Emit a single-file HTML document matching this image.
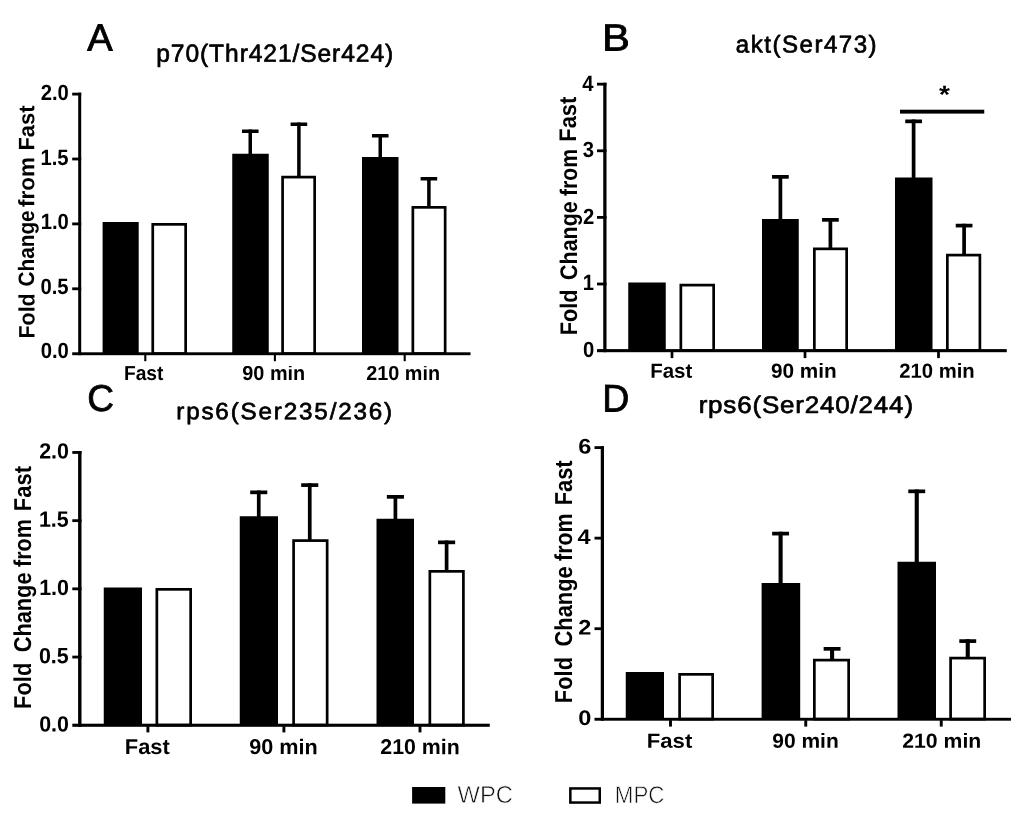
<!DOCTYPE html>
<html><head><meta charset="utf-8"><title>Figure</title>
<style>html,body{margin:0;padding:0;background:#fff}svg{display:block}text{font-family:"Liberation Sans",Arial,Helvetica,sans-serif;text-rendering:geometricPrecision}</style>
</head><body>
<svg width="1024" height="820" viewBox="0 0 1024 820">
<defs><clipPath id="ca"><rect x="-2000" y="-13.9" width="4000" height="40"/></clipPath></defs>
<rect width="1024" height="820" fill="#fff"/>
<rect x="248.50" y="129.50" width="3.50" height="25.50" fill="#000"/>
<rect x="241.95" y="129.50" width="16.60" height="3.50" fill="#000"/>
<rect x="297.15" y="122.50" width="3.50" height="54.50" fill="#000"/>
<rect x="290.60" y="122.50" width="16.60" height="3.50" fill="#000"/>
<rect x="378.50" y="134.00" width="3.50" height="24.00" fill="#000"/>
<rect x="371.95" y="134.00" width="16.60" height="3.50" fill="#000"/>
<rect x="427.15" y="177.00" width="3.50" height="30.00" fill="#000"/>
<rect x="420.60" y="177.00" width="16.60" height="3.50" fill="#000"/>
<rect x="102.60" y="222.00" width="36.10" height="131.75" fill="#000"/>
<rect x="152.75" y="224.35" width="32.90" height="129.25" fill="#fff" stroke="#000" stroke-width="2.7"/>
<rect x="232.25" y="153.75" width="36.50" height="200.00" fill="#000"/>
<rect x="282.60" y="177.10" width="32.05" height="176.50" fill="#fff" stroke="#000" stroke-width="2.7"/>
<rect x="362.00" y="157.00" width="36.50" height="196.75" fill="#000"/>
<rect x="412.85" y="207.35" width="32.30" height="146.25" fill="#fff" stroke="#000" stroke-width="2.7"/>
<rect x="78.20" y="92.70" width="3.00" height="262.50" fill="#000"/>
<rect x="72.20" y="352.30" width="398.30" height="2.90" fill="#000"/>
<rect x="72.20" y="92.70" width="9.00" height="2.80" fill="#000"/>
<rect x="72.20" y="157.60" width="9.00" height="2.80" fill="#000"/>
<rect x="72.20" y="222.50" width="9.00" height="2.80" fill="#000"/>
<rect x="72.20" y="287.40" width="9.00" height="2.80" fill="#000"/>
<rect x="144.25" y="354.70" width="2.10" height="6.50" fill="#000"/>
<rect x="273.85" y="354.70" width="2.10" height="6.50" fill="#000"/>
<rect x="403.65" y="354.70" width="2.10" height="6.50" fill="#000"/>
<text transform="translate(40.69,99.90) rotate(0.03) scale(0.9200,1)" font-size="22" font-weight="bold" fill="#000">2.0</text>
<text transform="translate(40.43,164.55) rotate(0.03) scale(0.9200,1)" font-size="22" font-weight="bold" fill="#000">1.5</text>
<text transform="translate(40.69,229.20) rotate(0.03) scale(0.9200,1)" font-size="22" font-weight="bold" fill="#000">1.0</text>
<text transform="translate(40.43,293.80) rotate(0.03) scale(0.9200,1)" font-size="22" font-weight="bold" fill="#000">0.5</text>
<text transform="translate(40.69,358.45) rotate(0.03) scale(0.9200,1)" font-size="22" font-weight="bold" fill="#000">0.0</text>
<text transform="translate(123.91,380.00) rotate(0.03) scale(0.9422,1)" font-size="20.4" font-weight="bold" fill="#000" clip-path="url(#ca)">Fast</text>
<text transform="translate(242.31,380.00) rotate(0.03) scale(0.9736,1)" font-size="20.4" font-weight="bold" fill="#000" clip-path="url(#ca)">90 min</text>
<text transform="translate(366.31,380.00) rotate(0.03) scale(0.9716,1)" font-size="20.4" font-weight="bold" fill="#000" clip-path="url(#ca)">210 min</text>
<text transform="translate(34.40,337.10) rotate(-90.03) scale(0.9654,1)" font-size="22.3" font-weight="bold" fill="#000"><tspan x="-1.49" textLength="46.87" lengthAdjust="spacingAndGlyphs">Fold</tspan> <tspan x="52.46" textLength="78.79" lengthAdjust="spacingAndGlyphs">Change</tspan> <tspan x="134.88" textLength="51.77" lengthAdjust="spacingAndGlyphs">from</tspan> <tspan x="193.21" textLength="46.86" lengthAdjust="spacingAndGlyphs">Fast</tspan></text>
<text transform="translate(87.33,50.40) rotate(0.03) scale(1.0094,1)" font-size="37.8" font-weight="normal" fill="#000" stroke="#000" stroke-width="0.8" stroke-linejoin="round">A</text>
<text transform="translate(156.27,61.75) rotate(0.03) scale(0.9900,1)" font-size="24.8" font-weight="normal" fill="#000" letter-spacing="0.939" stroke="#000" stroke-width="0.7" stroke-linejoin="round">p70(Thr421/Ser424)</text>
<rect x="778.55" y="175.00" width="3.70" height="45.00" fill="#000"/>
<rect x="772.05" y="175.00" width="16.70" height="3.70" fill="#000"/>
<rect x="828.55" y="218.00" width="3.70" height="31.00" fill="#000"/>
<rect x="822.05" y="218.00" width="16.70" height="3.70" fill="#000"/>
<rect x="911.75" y="119.50" width="3.70" height="59.50" fill="#000"/>
<rect x="905.25" y="119.50" width="16.70" height="3.70" fill="#000"/>
<rect x="962.25" y="223.75" width="3.70" height="31.25" fill="#000"/>
<rect x="955.75" y="223.75" width="16.70" height="3.70" fill="#000"/>
<rect x="628.25" y="282.50" width="37.50" height="68.15" fill="#000"/>
<rect x="680.85" y="285.10" width="32.80" height="65.40" fill="#fff" stroke="#000" stroke-width="2.7"/>
<rect x="762.00" y="219.00" width="36.75" height="131.65" fill="#000"/>
<rect x="814.35" y="248.85" width="32.30" height="101.65" fill="#fff" stroke="#000" stroke-width="2.7"/>
<rect x="895.00" y="177.50" width="37.50" height="173.15" fill="#000"/>
<rect x="947.35" y="255.10" width="32.55" height="95.40" fill="#fff" stroke="#000" stroke-width="2.7"/>
<rect x="603.25" y="82.75" width="3.25" height="269.45" fill="#000"/>
<rect x="597.00" y="349.10" width="409.75" height="3.10" fill="#000"/>
<rect x="597.00" y="82.75" width="9.50" height="2.80" fill="#000"/>
<rect x="597.00" y="149.40" width="9.50" height="2.80" fill="#000"/>
<rect x="597.00" y="216.00" width="9.50" height="2.80" fill="#000"/>
<rect x="597.00" y="282.60" width="9.50" height="2.80" fill="#000"/>
<rect x="670.65" y="351.70" width="2.70" height="6.40" fill="#000"/>
<rect x="803.65" y="351.70" width="2.70" height="6.40" fill="#000"/>
<rect x="937.15" y="351.70" width="2.70" height="6.40" fill="#000"/>
<text transform="translate(582.25,90.50) rotate(0.03) scale(0.9200,1)" font-size="22" font-weight="bold" fill="#000">4</text>
<text transform="translate(582.87,157.15) rotate(0.03) scale(0.9200,1)" font-size="22" font-weight="bold" fill="#000">3</text>
<text transform="translate(582.95,223.75) rotate(0.03) scale(0.9200,1)" font-size="22" font-weight="bold" fill="#000">2</text>
<text transform="translate(582.71,290.35) rotate(0.03) scale(0.9200,1)" font-size="22" font-weight="bold" fill="#000">1</text>
<text transform="translate(582.97,357.00) rotate(0.03) scale(0.9200,1)" font-size="22" font-weight="bold" fill="#000">0</text>
<text transform="translate(650.13,377.80) rotate(0.03) scale(1.0042,1)" font-size="20.4" font-weight="bold" fill="#000">Fast</text>
<text transform="translate(771.03,377.80) rotate(0.03) scale(1.0175,1)" font-size="20.4" font-weight="bold" fill="#000">90 min</text>
<text transform="translate(899.30,377.80) rotate(0.03) scale(0.9932,1)" font-size="20.4" font-weight="bold" fill="#000">210 min</text>
<text transform="translate(576.60,333.80) rotate(-90.03) scale(0.8970,1)" font-size="24" font-weight="bold" fill="#000"><tspan x="-1.62" textLength="51.04" lengthAdjust="spacingAndGlyphs">Fold</tspan> <tspan x="60.11" textLength="87.52" lengthAdjust="spacingAndGlyphs">Change</tspan> <tspan x="153.55" textLength="52.48" lengthAdjust="spacingAndGlyphs">from</tspan> <tspan x="214.08" textLength="50.32" lengthAdjust="spacingAndGlyphs">Fast</tspan></text>
<text transform="translate(601.98,50.40) rotate(0.03) scale(1.1006,1)" font-size="37.9" font-weight="normal" fill="#000" stroke="#000" stroke-width="0.8" stroke-linejoin="round">B</text>
<text transform="translate(735.83,52.50) rotate(0.03) scale(0.9900,1)" font-size="24.3" font-weight="normal" fill="#000" letter-spacing="1.528" stroke="#000" stroke-width="0.7" stroke-linejoin="round">akt(Ser473)</text>
<rect x="256.90" y="490.50" width="3.70" height="27.50" fill="#000"/>
<rect x="250.20" y="490.50" width="17.10" height="3.70" fill="#000"/>
<rect x="307.90" y="483.25" width="3.70" height="57.75" fill="#000"/>
<rect x="301.20" y="483.25" width="17.10" height="3.70" fill="#000"/>
<rect x="393.55" y="495.00" width="3.70" height="25.00" fill="#000"/>
<rect x="386.85" y="495.00" width="17.10" height="3.70" fill="#000"/>
<rect x="444.75" y="540.50" width="3.70" height="31.00" fill="#000"/>
<rect x="438.05" y="540.50" width="17.10" height="3.70" fill="#000"/>
<rect x="103.75" y="587.50" width="38.25" height="137.75" fill="#000"/>
<rect x="156.85" y="589.35" width="33.80" height="135.75" fill="#fff" stroke="#000" stroke-width="2.7"/>
<rect x="239.75" y="516.25" width="38.25" height="209.00" fill="#000"/>
<rect x="293.60" y="540.60" width="33.55" height="184.50" fill="#fff" stroke="#000" stroke-width="2.7"/>
<rect x="376.50" y="518.75" width="37.50" height="206.50" fill="#000"/>
<rect x="429.85" y="571.35" width="33.55" height="153.75" fill="#fff" stroke="#000" stroke-width="2.7"/>
<rect x="78.10" y="451.05" width="3.40" height="275.75" fill="#000"/>
<rect x="72.30" y="723.70" width="417.45" height="3.10" fill="#000"/>
<rect x="72.30" y="451.05" width="9.20" height="2.80" fill="#000"/>
<rect x="72.30" y="519.25" width="9.20" height="2.80" fill="#000"/>
<rect x="72.30" y="587.45" width="9.20" height="2.80" fill="#000"/>
<rect x="72.30" y="655.65" width="9.20" height="2.80" fill="#000"/>
<rect x="146.45" y="726.30" width="2.90" height="6.10" fill="#000"/>
<rect x="282.45" y="726.30" width="2.90" height="6.10" fill="#000"/>
<rect x="418.55" y="726.30" width="2.90" height="6.10" fill="#000"/>
<text transform="translate(39.16,458.60) rotate(0.03) scale(0.9750,1)" font-size="22" font-weight="bold" fill="#000">2.0</text>
<text transform="translate(38.88,526.80) rotate(0.03) scale(0.9750,1)" font-size="22" font-weight="bold" fill="#000">1.5</text>
<text transform="translate(39.16,595.00) rotate(0.03) scale(0.9750,1)" font-size="22" font-weight="bold" fill="#000">1.0</text>
<text transform="translate(38.88,663.20) rotate(0.03) scale(0.9750,1)" font-size="22" font-weight="bold" fill="#000">0.5</text>
<text transform="translate(39.16,731.40) rotate(0.03) scale(0.9750,1)" font-size="22" font-weight="bold" fill="#000">0.0</text>
<text transform="translate(124.79,754.10) rotate(0.03) scale(1.0222,1)" font-size="21.4" font-weight="bold" fill="#000">Fast</text>
<text transform="translate(249.25,754.10) rotate(0.03) scale(1.0118,1)" font-size="21.4" font-weight="bold" fill="#000">90 min</text>
<text transform="translate(380.26,754.10) rotate(0.03) scale(0.9984,1)" font-size="21.4" font-weight="bold" fill="#000">210 min</text>
<text transform="translate(31.30,707.50) rotate(-90.03) scale(0.8937,1)" font-size="24.4" font-weight="bold" fill="#000"><tspan x="-1.64" textLength="51.82" lengthAdjust="spacingAndGlyphs">Fold</tspan> <tspan x="61.77" textLength="89.33" lengthAdjust="spacingAndGlyphs">Change</tspan> <tspan x="157.24" textLength="53.72" lengthAdjust="spacingAndGlyphs">from</tspan> <tspan x="219.67" textLength="50.50" lengthAdjust="spacingAndGlyphs">Fast</tspan></text>
<text transform="translate(87.27,410.90) rotate(0.03) scale(0.9901,1)" font-size="37.4" font-weight="normal" fill="#000" stroke="#000" stroke-width="0.8" stroke-linejoin="round">C</text>
<text transform="translate(176.24,419.25) rotate(0.03) scale(1.0300,1)" font-size="23.5" font-weight="normal" fill="#000" letter-spacing="1.782" stroke="#000" stroke-width="0.7" stroke-linejoin="round">rps6(Ser235/236)</text>
<rect x="778.55" y="531.75" width="4.10" height="53.25" fill="#000"/>
<rect x="772.15" y="531.75" width="16.90" height="3.70" fill="#000"/>
<rect x="830.05" y="647.00" width="4.10" height="13.00" fill="#000"/>
<rect x="823.65" y="647.00" width="16.90" height="3.70" fill="#000"/>
<rect x="914.70" y="489.50" width="4.10" height="73.50" fill="#000"/>
<rect x="908.30" y="489.50" width="16.90" height="3.70" fill="#000"/>
<rect x="965.70" y="639.25" width="4.10" height="18.75" fill="#000"/>
<rect x="959.30" y="639.25" width="16.90" height="3.70" fill="#000"/>
<rect x="625.75" y="672.00" width="38.25" height="47.25" fill="#000"/>
<rect x="679.60" y="674.35" width="33.05" height="44.75" fill="#fff" stroke="#000" stroke-width="2.7"/>
<rect x="761.60" y="583.00" width="38.60" height="136.25" fill="#000"/>
<rect x="814.35" y="660.10" width="34.30" height="59.00" fill="#fff" stroke="#000" stroke-width="2.7"/>
<rect x="897.50" y="561.75" width="38.50" height="157.50" fill="#000"/>
<rect x="950.60" y="658.10" width="34.05" height="61.00" fill="#fff" stroke="#000" stroke-width="2.7"/>
<rect x="600.75" y="446.20" width="3.25" height="274.50" fill="#000"/>
<rect x="594.50" y="717.80" width="416.50" height="2.90" fill="#000"/>
<rect x="594.50" y="446.20" width="9.50" height="2.80" fill="#000"/>
<rect x="594.50" y="536.75" width="9.50" height="2.80" fill="#000"/>
<rect x="594.50" y="627.30" width="9.50" height="2.80" fill="#000"/>
<rect x="669.05" y="720.20" width="2.90" height="6.40" fill="#000"/>
<rect x="804.30" y="720.20" width="2.90" height="6.40" fill="#000"/>
<rect x="939.80" y="720.20" width="2.90" height="6.40" fill="#000"/>
<text transform="translate(578.17,453.40) rotate(0.03) scale(1.1200,1)" font-size="21" font-weight="bold" fill="#000">6</text>
<text transform="translate(577.45,543.95) rotate(0.03) scale(1.1200,1)" font-size="21" font-weight="bold" fill="#000">4</text>
<text transform="translate(578.26,634.50) rotate(0.03) scale(1.1200,1)" font-size="21" font-weight="bold" fill="#000">2</text>
<text transform="translate(578.28,725.05) rotate(0.03) scale(1.1200,1)" font-size="21" font-weight="bold" fill="#000">0</text>
<text transform="translate(646.77,747.80) rotate(0.03) scale(1.0848,1)" font-size="20.4" font-weight="bold" fill="#000">Fast</text>
<text transform="translate(772.27,747.80) rotate(0.03) scale(1.0295,1)" font-size="20.4" font-weight="bold" fill="#000">90 min</text>
<text transform="translate(902.26,747.80) rotate(0.03) scale(1.0405,1)" font-size="20.4" font-weight="bold" fill="#000">210 min</text>
<text transform="translate(572.00,701.70) rotate(-90.03) scale(0.8884,1)" font-size="24.5" font-weight="bold" fill="#000"><tspan x="-1.65" textLength="52.01" lengthAdjust="spacingAndGlyphs">Fold</tspan> <tspan x="62.14" textLength="90.33" lengthAdjust="spacingAndGlyphs">Change</tspan> <tspan x="158.41" textLength="53.34" lengthAdjust="spacingAndGlyphs">from</tspan> <tspan x="221.00" textLength="50.69" lengthAdjust="spacingAndGlyphs">Fast</tspan></text>
<text transform="translate(602.33,411.40) rotate(0.03) scale(0.9736,1)" font-size="38.5" font-weight="normal" fill="#000" stroke="#000" stroke-width="0.8" stroke-linejoin="round">D</text>
<text transform="translate(698.63,413.00) rotate(0.03) scale(1.0800,1)" font-size="24" font-weight="normal" fill="#000" letter-spacing="0.782" stroke="#000" stroke-width="0.7" stroke-linejoin="round">rps6(Ser240/244)</text>
<rect x="900.00" y="109.70" width="84.25" height="3.90" fill="#000"/>
<text transform="translate(939.12,103.00) rotate(0.03) scale(1.1213,1)" font-size="25" font-weight="bold" fill="#000">*</text>
<rect x="412.10" y="787.00" width="33.20" height="16.60" fill="#000"/>
<rect x="570.35" y="788.45" width="29.40" height="14.10" fill="#fff" stroke="#000" stroke-width="2.5"/>
<text transform="translate(457.60,802.70) rotate(0.03) scale(0.9796,1)" font-size="24.2" font-weight="normal" fill="#111" stroke="#fff" stroke-width="0.6">WPC</text>
<text transform="translate(614.77,802.70) rotate(0.03) scale(0.9239,1)" font-size="24.2" font-weight="normal" fill="#111" stroke="#fff" stroke-width="0.6">MPC</text>
</svg>
</body></html>
